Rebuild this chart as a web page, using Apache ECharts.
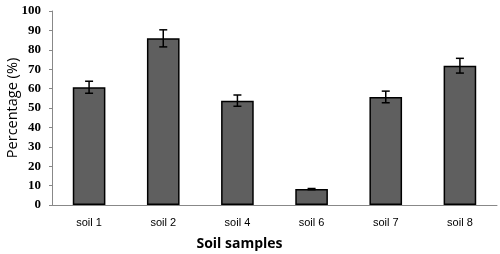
<!DOCTYPE html>
<html>
<head>
<meta charset="utf-8">
<script src="https://cdn.jsdelivr.net/npm/echarts@6/dist/echarts.min.js"></script>
<style>
  html, body { margin: 0; padding: 0; background: #fff; }
  #main { width: 500px; height: 254px; }
</style>
</head>
<body>
<div id="main"></div>
<script>
var categories = ['soil 1', 'soil 2', 'soil 4', 'soil 6', 'soil 7', 'soil 8'];
var values = [60.7, 85.9, 53.8, 8.2, 55.7, 71.8];
var errors = [3.1, 4.4, 2.9, 0.3, 3.0, 3.8];

var chart = echarts.init(document.getElementById('main'));

var errData = values.map(function (v, i) {
  return [i, v - errors[i], v + errors[i]];
});

chart.setOption({
  animation: false,
  grid: { left: 52, right: 3, top: 11, bottom: 49, outerBoundsMode: 'none' },
  xAxis: {
    type: 'category',
    data: categories,
    name: 'Soil samples',
    nameLocation: 'middle',
    nameGap: 32,
    nameMoveOverlap: false,
    nameTextStyle: { fontFamily: 'Open Sans', fontWeight: 'bold', fontSize: 14, color: '#000', padding: [0, 70, 0, 0] },
    axisLine: { lineStyle: { color: '#888', width: 1 } },
    axisTick: { show: false },
    axisLabel: { fontFamily: 'Liberation Sans', fontSize: 11, color: '#000', margin: 12 }
  },
  yAxis: {
    type: 'value',
    min: 0,
    max: 100,
    interval: 10,
    name: 'Percentage (%)',
    nameLocation: 'middle',
    nameGap: 32,
    nameMoveOverlap: false,
    nameTextStyle: { fontFamily: 'Open Sans', fontSize: 14.5, color: '#000' },
    axisLine: { show: true, lineStyle: { color: '#888', width: 1 } },
    axisTick: { show: true, length: 3, lineStyle: { color: '#888' } },
    axisLabel: { fontFamily: 'Liberation Serif', fontWeight: 'bold', fontSize: 13, color: '#000', margin: 11 },
    splitLine: { show: false }
  },
  series: [
    {
      type: 'bar',
      data: values,
      barWidth: '44%',
      itemStyle: { color: '#5f5f5f', borderColor: '#000', borderWidth: 1.5 }
    },
    {
      type: 'custom',
      data: errData,
      z: 10,
      renderItem: function (params, api) {
        var x = api.value(0);
        var lo = api.coord([x, api.value(1)]);
        var hi = api.coord([x, api.value(2)]);
        var cap = 4;
        var style = { stroke: '#000', lineWidth: 1.5 };
        return {
          type: 'group',
          children: [
            { type: 'line', shape: { x1: hi[0], y1: hi[1], x2: lo[0], y2: lo[1] }, style: style },
            { type: 'line', shape: { x1: hi[0] - cap, y1: hi[1], x2: hi[0] + cap, y2: hi[1] }, style: style },
            { type: 'line', shape: { x1: lo[0] - cap, y1: lo[1], x2: lo[0] + cap, y2: lo[1] }, style: style }
          ]
        };
      }
    }
  ]
});
</script>
</body>
</html>
